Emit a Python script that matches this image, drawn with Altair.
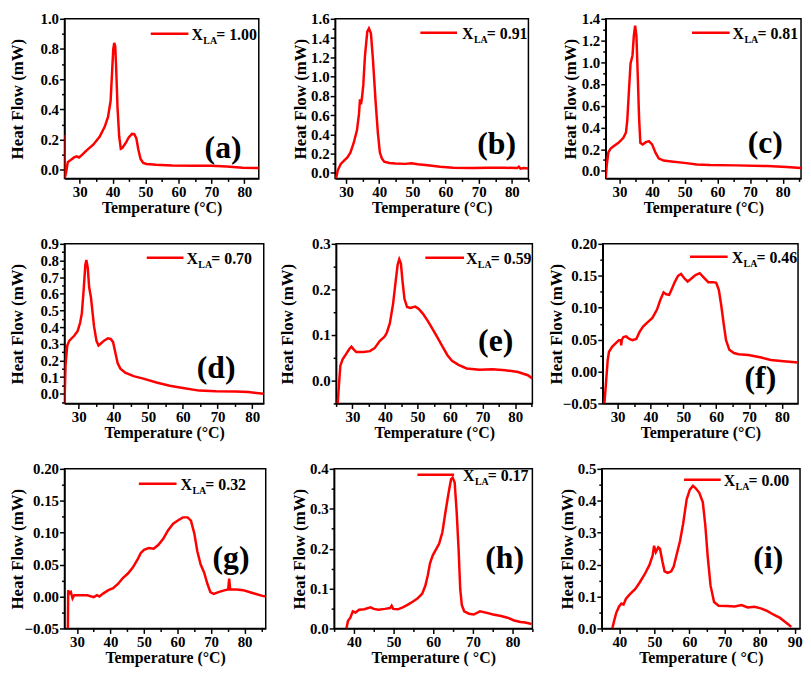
import altair as alt
import pandas as pd

# ---------------- data ----------------
T_a = [25.4, 25.45, 25.9, 26.4, 27.4, 28.3, 29.1, 29.8, 30.8, 32.2, 34.2, 36.1, 37.6, 38.6, 39.4, 39.8, 40.2, 40.5, 40.8, 41.1,
       41.5, 42.0, 42.5, 43.0, 44.0, 44.9, 45.9, 46.6, 47.2, 47.8, 48.5, 49.3, 50.3, 53.2, 58.1, 64.9, 69.8, 74.7, 79.5, 84.4]
H_a = [0.23, -0.058, -0.015, 0.05, 0.066, 0.081, 0.088, 0.081, 0.10, 0.13, 0.167, 0.22, 0.284, 0.348, 0.455, 0.626, 0.797, 0.84, 0.818, 0.669,
       0.412, 0.22, 0.139, 0.145, 0.177, 0.214, 0.237, 0.235, 0.209, 0.135, 0.071, 0.045, 0.038, 0.032, 0.028, 0.026, 0.026, 0.021, 0.013, 0.011]

T_b = [27.0, 27.5, 28.4, 29.4, 30.4, 31.3, 32.3, 33.3, 33.9, 34.2, 34.5, 34.8, 35.2, 35.7, 36.4, 36.9, 37.5, 38.1, 38.9, 39.6,
       40.2, 40.8, 41.5, 43.0, 44.9, 47.8, 49.7, 51.6, 54.6, 58.4, 62.3, 68.1, 72.9, 77.8, 81.6, 82.1, 82.6, 83.6, 85.0]
H_b = [-0.057, 0.027, 0.094, 0.127, 0.161, 0.211, 0.311, 0.445, 0.613, 0.763, 0.713, 0.78, 0.914, 1.215, 1.466, 1.5, 1.449, 1.182, 0.746, 0.412,
       0.211, 0.151, 0.117, 0.104, 0.097, 0.094, 0.1, 0.09, 0.08, 0.064, 0.054, 0.05, 0.054, 0.054, 0.05, 0.064, 0.044, 0.05, 0.047]

T_c = [25.8, 26.1, 26.6, 27.3, 28.3, 29.7, 31.2, 32.0, 32.4, 32.9, 33.4, 34.0, 34.4, 34.8, 35.2, 35.6, 36.0, 36.4, 37.1, 38.1,
       39.0, 40.0, 41.0, 42.0, 43.5, 45.9, 49.8, 53.7, 57.7, 65.5, 75.3, 81.2, 85.6]
H_c = [-0.069, 0.051, 0.17, 0.206, 0.229, 0.259, 0.304, 0.354, 0.468, 0.736, 0.989, 1.063, 1.242, 1.337, 1.242, 0.885, 0.497, 0.259, 0.244, 0.265,
       0.274, 0.244, 0.17, 0.116, 0.095, 0.086, 0.074, 0.06, 0.054, 0.051, 0.045, 0.036, 0.027]

T_d = [25.9, 26.2, 26.7, 27.3, 28.7, 29.7, 30.4, 30.9, 31.4, 31.9, 32.2, 32.6, 33.0, 33.5, 33.9, 34.4, 35.1, 35.7, 36.3, 37.3,
       38.4, 39.2, 39.9, 40.6, 41.2, 42.0, 43.4, 45.8, 48.6, 52.4, 56.2, 60.0, 64.7, 69.5, 75.1, 78.9, 83.3]
H_d = [-0.058, 0.174, 0.29, 0.319, 0.348, 0.377, 0.426, 0.484, 0.619, 0.774, 0.803, 0.755, 0.639, 0.581, 0.503, 0.406, 0.319, 0.29, 0.3, 0.319,
       0.333, 0.329, 0.31, 0.242, 0.184, 0.151, 0.126, 0.106, 0.091, 0.068, 0.048, 0.035, 0.019, 0.015, 0.014, 0.01, 0.0]

T_e = [25.5, 25.8, 26.3, 27.0, 28.0, 29.0, 29.7, 30.4, 31.2, 33.4, 35.4, 36.9, 38.4, 39.9, 40.6, 41.5, 42.5, 43.3, 43.9, 44.4,
       44.9, 45.4, 46.0, 46.8, 47.8, 49.3, 50.4, 51.7, 53.2, 54.7, 56.2, 57.7, 59.2, 60.6, 62.6, 65.1, 69.1, 73.0, 77.0, 80.9, 83.9, 85.3]
H_e = [-0.051, -0.018, 0.032, 0.046, 0.057, 0.068, 0.074, 0.068, 0.062, 0.062, 0.064, 0.071, 0.086, 0.096, 0.105, 0.125, 0.168, 0.218, 0.254, 0.266,
       0.257, 0.218, 0.179, 0.161, 0.159, 0.162, 0.157, 0.146, 0.13, 0.112, 0.093, 0.074, 0.055, 0.043, 0.034, 0.026, 0.023, 0.024, 0.022, 0.018, 0.011, 0.004]

T_f = [26.0, 26.5, 27.0, 27.4, 28.4, 29.4, 30.4, 31.0, 31.1, 31.3, 31.8, 32.6, 33.6, 34.5, 35.7, 36.7, 37.7, 39.1, 40.6, 42.0,
       43.0, 44.0, 44.8, 45.7, 46.4, 47.4, 48.4, 49.3, 50.3, 51.3, 52.3, 53.7, 55.0, 56.1, 57.6, 59.1, 60.0, 60.8, 61.5, 62.3,
       63.0, 64.0, 65.4, 66.8, 69.8, 73.7, 76.6, 80.5, 84.9]
H_f = [-0.05, -0.017, 0.018, 0.031, 0.039, 0.044, 0.049, 0.049, 0.041, 0.05, 0.054, 0.055, 0.051, 0.049, 0.051, 0.062, 0.07, 0.077, 0.084, 0.097,
       0.112, 0.124, 0.121, 0.12, 0.128, 0.14, 0.15, 0.153, 0.146, 0.141, 0.145, 0.151, 0.154, 0.148, 0.14, 0.14, 0.139, 0.128, 0.105, 0.074,
       0.049, 0.034, 0.029, 0.027, 0.026, 0.022, 0.018, 0.016, 0.014]

T_g = [27.3, 27.4, 27.8, 28.2, 28.7, 29.2, 31.1, 33.1, 35.0, 36.0, 36.7, 37.9, 39.4, 40.8, 42.3, 43.7, 45.2, 46.6, 48.1, 49.0,
       50.0, 51.4, 52.9, 54.3, 55.8, 57.2, 58.7, 60.1, 61.6, 63.0, 64.0, 65.0, 65.9, 66.9, 67.9, 68.9, 69.8, 70.8, 72.2, 74.2,
       75.1, 75.4, 75.7, 77.6, 79.5, 81.4, 83.4, 85.3, 86.3]
H_g = [-0.05, 0.01, 0.005, 0.007, -0.003, 0.002, 0.002, 0.002, -0.001, 0.002, 0.0, 0.005, 0.01, 0.013, 0.02, 0.029, 0.036, 0.045, 0.058, 0.068,
       0.073, 0.076, 0.075, 0.081, 0.091, 0.104, 0.114, 0.119, 0.124, 0.124, 0.119, 0.099, 0.071, 0.05, 0.038, 0.02, 0.007, 0.004, 0.007, 0.01,
       0.011, 0.028, 0.011, 0.011, 0.01, 0.007, 0.004, 0.001, 0.0]

T_h = [38.1, 38.5, 39.1, 39.7, 40.4, 41.3, 42.6, 44.2, 45.0, 46.2, 47.8, 49.1, 49.5, 49.9, 51.1, 52.3, 53.5, 54.8, 56.0, 57.2,
       58.0, 58.6, 59.2, 59.9, 60.7, 61.5, 62.3, 63.1, 63.9, 64.5, 64.9, 65.4, 65.9, 66.4, 66.8, 67.2, 67.8, 69.0, 70.2, 71.8,
       73.5, 75.1, 77.1, 78.7, 80.4, 82.0, 83.2, 84.8]
H_h = [0.0, 0.019, 0.027, 0.043, 0.04, 0.047, 0.048, 0.053, 0.049, 0.047, 0.049, 0.051, 0.057, 0.049, 0.048, 0.053, 0.059, 0.067, 0.075, 0.087,
       0.107, 0.132, 0.164, 0.184, 0.198, 0.213, 0.241, 0.293, 0.342, 0.374, 0.378, 0.366, 0.293, 0.196, 0.099, 0.059, 0.043, 0.037, 0.035, 0.043,
       0.039, 0.035, 0.031, 0.027, 0.02, 0.016, 0.015, 0.011]

T_i = [38.0, 38.5, 39.1, 39.9, 40.6, 41.2, 41.9, 43.1, 44.5, 45.8, 47.2, 48.6, 49.5, 49.9, 50.4, 51.1, 51.6, 52.3, 52.9, 53.8,
       54.8, 55.5, 56.4, 57.3, 58.2, 59.2, 60.1, 61.0, 61.7, 62.8, 63.8, 64.5, 65.2, 66.0, 67.0, 68.3, 70.6, 72.9, 74.8, 76.6,
       78.5, 80.3, 82.1, 84.0, 85.8, 87.2, 88.1, 89.0]
H_i = [0.0, 0.023, 0.048, 0.068, 0.078, 0.075, 0.093, 0.108, 0.123, 0.144, 0.169, 0.199, 0.229, 0.259, 0.239, 0.254, 0.249, 0.209, 0.179, 0.174,
       0.179, 0.194, 0.234, 0.274, 0.329, 0.405, 0.435, 0.447, 0.44, 0.425, 0.395, 0.324, 0.224, 0.134, 0.083, 0.071, 0.07, 0.069, 0.073, 0.066,
       0.068, 0.063, 0.055, 0.043, 0.033, 0.021, 0.013, 0.005]

LETTERS = ["(a)", "(b)", "(c)", "(d)", "(e)", "(f)", "(g)", "(h)", "(i)"]
XLA = ["= 1.00", "= 0.91", "= 0.81", "= 0.70", "= 0.59", "= 0.46", "= 0.32", "= 0.17", "= 0.00"]
SYMBOL = "X"
SUBSCRIPT = "LA"
Y_TITLE = "Heat Flow (mW)"
X_TITLES = ["Temperature (°C)"] * 7 + ["Temperature ( °C)"] * 2

SERIES = [(T_a, H_a), (T_b, H_b), (T_c, H_c), (T_d, H_d), (T_e, H_e), (T_f, H_f), (T_g, H_g), (T_h, H_h), (T_i, H_i)]

# axis ranges and tick steps per panel
X_DOM = [[25.4, 84.4], [26.7, 85.0], [25.8, 85.6], [25.9, 83.3], [25.0, 85.3], [25.5, 84.9], [26.3, 86.3], [35, 85], [35, 91.5]]
Y_DOM = [[-0.058, 1.0], [-0.057, 1.6], [-0.069, 1.4], [-0.058, 0.9], [-0.051, 0.3], [-0.05, 0.2], [-0.05, 0.2], [0, 0.4], [0, 0.5]]
Y_STEP = [0.2, 0.2, 0.2, 0.1, 0.1, 0.05, 0.05, 0.1, 0.1]
Y_FMT = [".1f", ".1f", ".1f", ".1f", ".1f", ".2f", ".2f", ".1f", ".1f"]

# ---------------- layout / style (not data) ----------------
FONT = "Liberation Serif"
RED = "#ff0000"
HEIGHT = 161
WIDTHS = [196, 195, 197, 201, 198, 197, 203, 200, 200]
EXTENT = [38, 26, 26, 38, 40, 38, 38, 26, 26]
ROW_SPACING = [31, 13, 23]
# legend: line x1, x2, y ; text x ; letter cx, cy  (pixels inside plot area)
LEG = [(87, 125, 15, 128, 160, 130), (86, 123, 14, 128, 163, 126), (87, 125, 14, 128, 161, 125),
       (83, 120, 14, 123, 153, 125), (90, 129, 14, 131, 161, 98), (88, 126, 13, 130, 159, 135),
       (75, 113, 15, 117, 168, 90), (84, 121, 6, 130, 172, 90), (83, 120, 11, 123, 168, 90)]


def tick_values(lo, hi, step):
    vals = []
    k = int(-(-lo // step))
    while k * step <= hi + 1e-9:
        vals.append(round(k * step, 6))
        k += 1
    return vals


def major_test(step):
    return f"abs(datum.value / {step} - round(datum.value / {step})) < 1e-6"


def panel(i):
    T, H = SERIES[i]
    df = pd.DataFrame({"T": T, "H": H, "idx": list(range(len(T)))})
    xd, yd = X_DOM[i], Y_DOM[i]
    ystep = Y_STEP[i]
    xt = tick_values(xd[0], xd[1], 5)
    yt = tick_values(yd[0], yd[1], ystep / 2)
    xtest = major_test(10)
    ytest = major_test(ystep)
    common = dict(labelFont=FONT, labelFontSize=15, labelFontWeight="bold", titleFont=FONT,
                  titleFontWeight="bold", labelColor="black", titleColor="black",
                  domainColor="black", domainWidth=1.5, tickColor="black", tickWidth=1.5,
                  grid=False, labelOverlap=False, labelFlush=False)
    xaxis = alt.Axis(values=xt, title=X_TITLES[i], titlePadding=0, titleFontSize=16, labelPadding=1,
                     labelExpr=f"{xtest} ? datum.label : ''", format="d",
                     tickSize={"condition": {"test": xtest, "value": 5}, "value": 3}, **common)
    yaxis = alt.Axis(values=yt, title=Y_TITLE, titlePadding=0, titleFontSize=17, labelPadding=1,
                     format=Y_FMT[i], labelExpr=f"{ytest} ? datum.label : ''",
                     minExtent=EXTENT[i], maxExtent=EXTENT[i],
                     tickSize={"condition": {"test": ytest, "value": 5}, "value": 3}, **common)
    line = alt.Chart(df).mark_line(color=RED, strokeWidth=2.5, clip=True).encode(
        x=alt.X("T:Q", scale=alt.Scale(domain=xd, nice=False, zero=False), axis=xaxis),
        y=alt.Y("H:Q", scale=alt.Scale(domain=yd, nice=False, zero=False), axis=yaxis),
        order="idx:Q",
    )
    x1, x2, ly, tx, cx, cy = LEG[i]
    ann = pd.DataFrame({"sym": [SYMBOL], "sub": [SUBSCRIPT], "val": [XLA[i]], "letter": [LETTERS[i]]})
    base = alt.Chart(ann)
    rule = base.mark_rule(color=RED, strokeWidth=2.5).encode(
        x=alt.value(x1), x2=alt.value(x2), y=alt.value(ly))
    txt = dict(font=FONT, fontWeight="bold", color="black", align="left", baseline="middle")
    t_sym = base.mark_text(fontSize=16, **txt).encode(text="sym:N", x=alt.value(tx), y=alt.value(ly + 1))
    t_sub = base.mark_text(fontSize=10, **txt).encode(text="sub:N", x=alt.value(tx + 12), y=alt.value(ly + 7))
    t_val = base.mark_text(fontSize=16, **txt).encode(text="val:N", x=alt.value(tx + 25), y=alt.value(ly + 1))
    t_let = base.mark_text(fontSize=32, font=FONT, fontWeight="bold", color="black", align="center",
                           baseline="middle").encode(text="letter:N", x=alt.value(cx), y=alt.value(cy))
    return alt.layer(line, rule, t_sym, t_sub, t_val, t_let).properties(width=WIDTHS[i], height=HEIGHT)


rows = []
for r in range(3):
    rows.append(alt.hconcat(*[panel(3 * r + c) for c in range(3)], spacing=ROW_SPACING[r]))

chart = alt.vconcat(*rows, spacing=20).properties(
    padding=0, background="white"
).configure_view(stroke="black", strokeWidth=1.5)

chart.save("out.html", embed_options={"renderer": "svg", "actions": False})
